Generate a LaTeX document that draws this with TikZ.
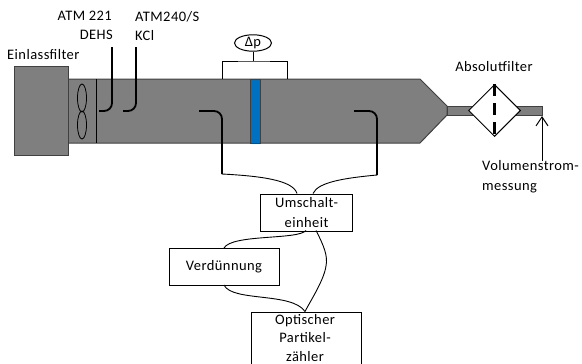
\documentclass[tikz,border=0pt]{standalone}
\usepackage{fontspec}
\setmainfont[LetterSpace=3]{Carlito}
\usetikzlibrary{arrows.meta,shapes.geometric}
\definecolor{tubegray}{HTML}{7F7F7F}
\definecolor{filterblue}{HTML}{0070C0}
\newcommand{\labfont}{\fontsize{14.5}{20}\selectfont}
\newcommand{\tightfont}{\fontsize{14.5}{18.5}\selectfont}
\tikzset{
  x=1pt,y=-1pt,
  body/.style={fill=tubegray,draw=black!75,line width=1pt},
  boxn/.style={draw=black,line width=1pt,fill=white,minimum width=#1,inner sep=0pt,align=center,anchor=north west,font=\labfont},
  lab/.style={font=\labfont,inner sep=0pt,align=left},
  probe/.style={line width=1.8pt,rounded corners=8pt},
  thin line/.style={line width=1pt},
  curve/.style={line width=0.9pt}
}
\begin{document}
\begin{tikzpicture}
\useasboundingbox (0,0) rectangle (582,364);
% tube bodies
\path[body] (68,79) -- (420,79) -- (447,106) -- (447,115) -- (420,143) -- (68,143) -- cycle;
\path[body] (447,106) rectangle (542,115);
\path[body] (14,66) rectangle (68,155);
\draw[thin line] (96,79) -- (96,143);
\draw[line width=0.8pt] (82,98) ellipse (4.5 and 14);
\draw[line width=0.8pt] (82,125) ellipse (4.5 and 14);
% filter
\fill[filterblue,draw=black!75,line width=1pt] (250.5,79) rectangle (260,143);
% delta p
\node[draw,ellipse,line width=1pt,fill=white,minimum width=37,minimum height=16,inner sep=0pt,font=\labfont] (dp) at (253,43) {Δp};
\coordinate (dpL) at (222.5,79);
\coordinate (dpR) at (287.5,79);
\coordinate (dpJ) at (253,61);
\draw[thin line] (dp.south) -- (dpJ);
\draw[thin line] (dpL) |- (dpJ) -| (dpR);
% absolute filter
\node[draw,diamond,aspect=1,line width=1pt,fill=white,minimum width=52,minimum height=52,inner sep=0pt] (abs) at (494.5,110.5) {};
\draw[line width=2.2pt,dash pattern=on 12pt off 7pt] (abs.north) -- (abs.south);
% labels
\node[lab,anchor=north east] (atma) at (112,11) {ATM 221};
\node[lab,anchor=north east] (dehs) at (113,30) {DEHS};
\node[lab,anchor=north west] (atmb) at (135,11) {ATM240/S};
\node[lab,anchor=north west] (kcl) at (135,30) {KCl};
\node[lab,anchor=west] (einl) at (7,55) {Einlassfilter};
\node[lab,anchor=north] (absl) at (494,61) {Absolutfilter};
\node[lab,anchor=north west] (vol) at (482,160) {Volumenstrom-\\messung};
% injectors and probes
\coordinate (p1) at (99,111); \coordinate (p2) at (123,111);
\coordinate (p3) at (199,111); \coordinate (p4) at (354,111);
\coordinate (q3) at (222,174); \coordinate (q4) at (377,175);
\draw[probe] (112,47) |- (p1);
\draw[probe] (136,47) |- (p2);
\draw[probe] (q3) |- (p3);
\draw[probe] (q4) |- (p4);
% boxes
\node[boxn=92,minimum height=37] (um) at (260,193.5) {Umschalt-\\einheit};
\node[boxn=110,minimum height=37] (ver) at (168.5,248) {Verdünnung};
\node[draw,line width=1pt,fill=white,anchor=north west,minimum width=110,minimum height=58,inner sep=0pt] (opt) at (250.5,311.5) {};
\node[inner sep=0pt,font=\tightfont,align=center,anchor=north] (optl) at (305,314) {Optischer\\Partikel-\\zähler};
% connecting curves
\coordinate (u1) at (297,193.5); \coordinate (u2) at (313,193.5);
\coordinate (u3) at (306,230.5); \coordinate (u4) at (316,230.5);
\coordinate (v1) at (224,248); \coordinate (v2) at (224,285);
\coordinate (o1) at (305,311.5);
\draw[curve] (q3) .. controls (260,176) and (293,180) .. (u1);
\draw[curve] (q4) .. controls (345,178) and (318,182) .. (u2);
\draw[curve] (u3) .. controls (298,240) and (232,234) .. (v1);
\draw[curve] (v2) .. controls (232,302) and (292,292) .. (o1);
\draw[curve] (u4) .. controls (324,246) and (328,256) .. (326,266) .. controls (324,280) and (311,300) .. (o1);
% flow measurement arrow
\coordinate (fm) at (542,161);
\coordinate (ft) at (542,116);
\draw[thin line,-{Straight Barb[length=9pt,width=12pt,line width=1pt]}] (fm) -- (ft);
\end{tikzpicture}
\end{document}
